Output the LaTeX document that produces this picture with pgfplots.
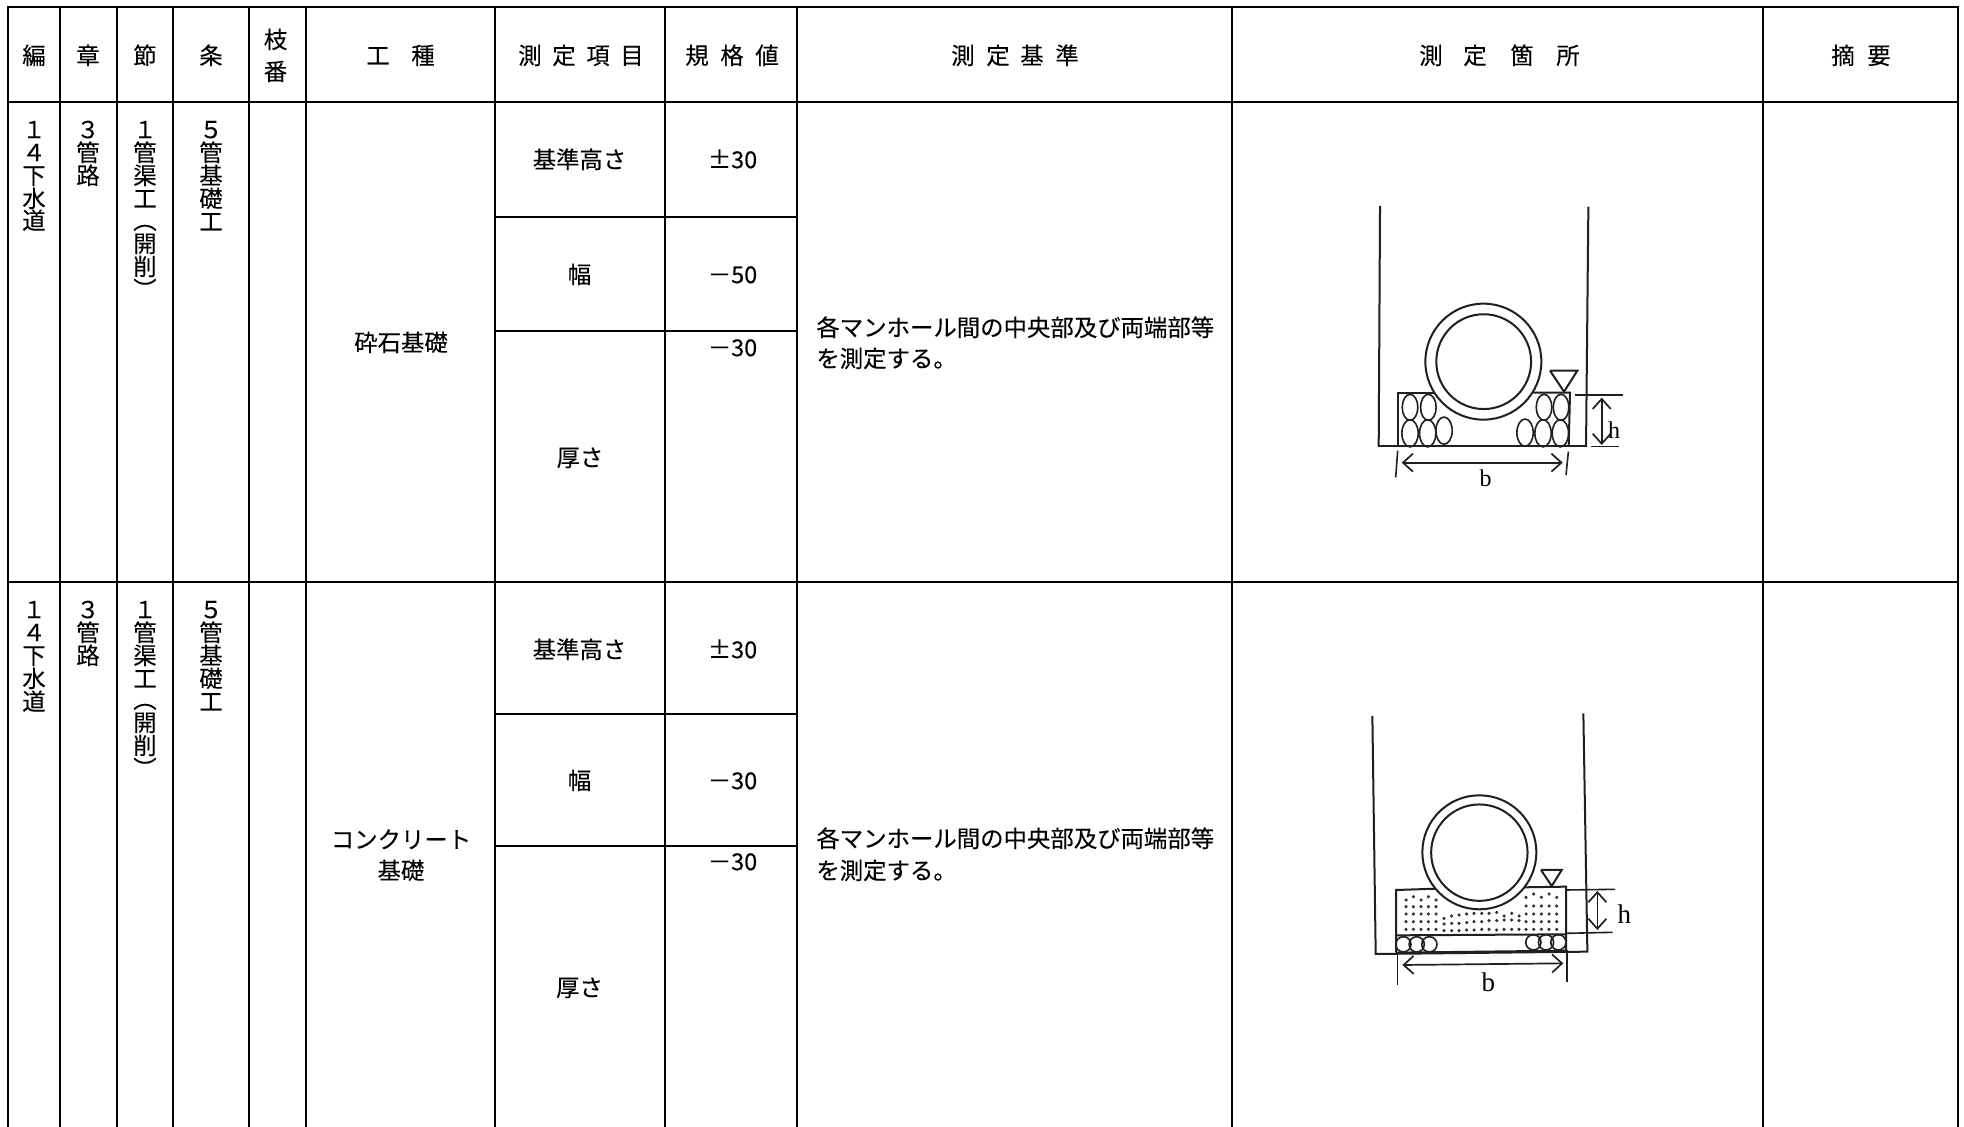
\documentclass[border=0pt]{standalone}
\usepackage{fontspec}
\setmainfont{Noto Sans CJK JP}[FakeBold=0.12]
\newfontfamily\serif{Liberation Serif}
\usepackage{pgfplots}
\pgfplotsset{compat=1.18}
\usetikzlibrary{arrows.meta}
\pgfplotsset{sheet/.style={hide axis, scale only axis, width=982pt, height=563.5pt, y dir=reverse, clip=true}}
\tikzset{
  tl/.style={black, line width=1.15pt},
  dl/.style={color=black!88, line width=1pt},
  dn/.style={color=black!88, line width=0.8pt},
  dim/.style={color=black!88, line width=0.85pt, {Straight Barb[length=5pt,width=9pt]}-{Straight Barb[length=5pt,width=9pt]}},
}
\newcommand{\T}[3]{\node[anchor=base, inner sep=0pt, yshift=-4.6pt, font=\fontsize{11.7}{11.7}\selectfont] at (axis cs:#1,#2) {#3};}
\newcommand{\TL}[3]{\node[anchor=base west, inner sep=0pt, yshift=-4.6pt, font=\fontsize{11.7}{11.7}\selectfont] at (axis cs:#1,#2) {#3};}
\begin{document}
\begin{tikzpicture}
% ---------- table ----------
\begin{axis}[sheet, xmin=0, xmax=1964, ymin=0, ymax=1127, axis on top=false,
  axis background/.style={fill=white}]
\addplot[tl] coordinates {(7,7)(1959,7)};
\addplot[tl] coordinates {(7,102)(1959,102)};
\addplot[tl] coordinates {(7,582)(1959,582)};
\addplot[tl] coordinates {(495,217)(797,217)};
\addplot[tl] coordinates {(495,331)(797,331)};
\addplot[tl] coordinates {(495,714)(797,714)};
\addplot[tl] coordinates {(495,846)(797,846)};
\addplot[tl] coordinates {(8,7)(8,1127)};
\addplot[tl] coordinates {(60,7)(60,1127)};
\addplot[tl] coordinates {(117,7)(117,1127)};
\addplot[tl] coordinates {(173,7)(173,1127)};
\addplot[tl] coordinates {(249,7)(249,1127)};
\addplot[tl] coordinates {(306,7)(306,1127)};
\addplot[tl] coordinates {(495,7)(495,1127)};
\addplot[tl] coordinates {(665,7)(665,1127)};
\addplot[tl] coordinates {(797,7)(797,1127)};
\addplot[tl] coordinates {(1232,7)(1232,1127)};
\addplot[tl] coordinates {(1763,7)(1763,1127)};
\addplot[tl] coordinates {(1958,7)(1958,1127)};
% header
\T{34}{55}{編} \T{88}{55}{章} \T{145}{55}{節} \T{211}{55}{条}
\T{275.5}{39}{枝} \T{275.5}{71}{番}
\T{378}{55}{工} \T{423}{55}{種}
\T{530}{55}{測} \T{564}{55}{定} \T{598}{55}{項} \T{632}{55}{目}
\T{697}{55}{規} \T{732}{55}{格} \T{767}{55}{値}
\T{963}{55}{測} \T{998}{55}{定} \T{1032}{55}{基} \T{1067}{55}{準}
\T{1431}{55}{測} \T{1475}{55}{定} \T{1522}{55}{箇} \T{1568}{55}{所}
\T{1843}{55}{摘} \T{1879}{55}{要}
% row 1 vertical
\T{34}{129}{１} \T{34}{152}{４} \T{34}{175}{下} \T{34}{198}{水} \T{34}{220}{道}
\T{88}{129}{３} \T{88}{152}{管} \T{88}{175}{路}
\T{145}{129}{１} \T{145}{152}{管} \T{145}{175}{渠} \T{145}{198}{工} \T{145}{220}{︵} \T{145}{243}{開} \T{145}{266}{削} \T{145}{289}{︶}
\T{211}{129}{５} \T{211}{152}{管} \T{211}{175}{基} \T{211}{198}{礎} \T{211}{221}{工}
% row 1 cells
\T{401}{342}{砕石基礎}
\T{579.5}{159}{基準高さ} \T{732.5}{159}{±30}
\T{579.5}{274}{幅} \T{732.5}{274}{－50}
\T{732.5}{347}{－30}
\T{580}{457}{厚さ}
\TL{816}{327}{各マンホール間の中央部及び両端部等}
\TL{816}{358}{を測定する。}
% row 2 vertical
\T{34}{609}{１} \T{34}{632}{４} \T{34}{655}{下} \T{34}{678}{水} \T{34}{701}{道}
\T{88}{609}{３} \T{88}{632}{管} \T{88}{655}{路}
\T{145}{609}{１} \T{145}{632}{管} \T{145}{655}{渠} \T{145}{678}{工} \T{145}{699}{︵} \T{145}{722}{開} \T{145}{745}{削} \T{145}{768}{︶}
\T{211}{609}{５} \T{211}{632}{管} \T{211}{655}{基} \T{211}{678}{礎} \T{211}{701}{工}
% row 2 cells
\T{401}{839}{コンクリート} \T{401}{870}{基礎}
\T{579.5}{649}{基準高さ} \T{732.5}{649}{±30}
\T{579.5}{780}{幅} \T{732.5}{780}{－30}
\T{732.5}{861}{－30}
\T{579.5}{987}{厚さ}
\TL{816}{838}{各マンホール間の中央部及び両端部等}
\TL{816}{870}{を測定する。}
\end{axis}
% ---------- sketch 1 (units: 1/3 px from 1340,190) ----------
\begin{axis}[sheet, xmin=-4020, xmax=1872, ymin=-570, ymax=2811]
\addplot[dl] coordinates {(120,48)(116,768)};
\addplot[dl] coordinates {(745,50)(738,770)};
\addplot[dl] coordinates {(113,768)(740,768)};
\addplot[dl] coordinates {(175,768)(175,608)(285,608)};
\addplot[dl] coordinates {(580,608)(690,608)(686,768)};
\addplot[dn, only marks, mark=o, mark size=6.5pt, mark options={xscale=0.6, solid}] coordinates {(210,652)(265,652)(612,652)(663,652)};
\addplot[dn, only marks, mark=o, mark size=6.8pt, mark options={xscale=0.6, solid}] coordinates {(210,730)(263,730)(312,722)(555,728)(609,730)(661,730)};
\addplot[dl, only marks, mark=*, mark size=29pt, mark options={fill=white, solid}] coordinates {(430,515)};
\addplot[dl, only marks, mark=*, mark size=23.7pt, mark options={fill=white, solid}] coordinates {(431,515)};
\addplot[dl] coordinates {(630,542)(712,542)(672,605)(630,542)};
\addplot[dn] coordinates {(705,615)(848,615)};
\addplot[dn] coordinates {(753,770)(838,770)};
\addplot[dim] coordinates {(785,623)(785,765)};
\addplot[dim] coordinates {(185,818)(668,818)};
\addplot[dn] coordinates {(173,782)(167,862)};
\addplot[dn] coordinates {(685,785)(678,855)};
\node[anchor=center, inner sep=0pt, font=\serif\fontsize{12}{12}\selectfont] at (axis cs:822,720) {h};
\node[anchor=center, inner sep=0pt, font=\serif\fontsize{12}{12}\selectfont] at (axis cs:437,866) {b};
\end{axis}
% ---------- sketch 2 (units: 1/3 px from 1340,700) ----------
\begin{axis}[sheet, xmin=-4020, xmax=1872, ymin=-2100, ymax=1281]
\addplot[dl] coordinates {(97,48)(107,762)(742,755)(730,40)};
\addplot[dl] coordinates {(168,758)(168,570)(290,566)};
\addplot[dl] coordinates {(550,562)(678,560)(678,752)};
\addplot[dl] coordinates {(168,706)(678,703)};
\addplot[dl] coordinates {(168,758)(678,752)};
\addplot[dn, only marks, mark=o, mark size=3.8pt, mark options={solid}] coordinates {(190,733)(230,733)(268,733)(580,727)(618,727)(655,727)};
\addplot[black!80, only marks, mark=*, mark size=0.6pt] coordinates {
(198,600)(220,590)(243,600)(265,590)(288,600)
(198,620)(220,620)(243,620)(265,620)(288,620)
(198,642)(220,642)(243,642)(265,642)(288,642)
(198,665)(220,665)(243,665)(265,665)(288,665)
(198,688)(220,688)(243,688)(265,688)(288,688)
(312,655)(335,648)(357,645)(380,642)(402,640)(425,640)(447,640)(470,637)(492,648)(515,640)(537,648)
(312,672)(335,670)(357,670)(380,668)(402,665)(425,665)(447,662)(470,662)(492,660)(515,660)(537,662)
(312,692)(335,692)(357,692)(380,690)(402,690)(425,688)(447,688)(470,690)(492,688)(515,688)(537,688)
(558,592)(581,582)(604,592)(627,582)(650,592)
(558,618)(581,618)(604,618)(627,618)(650,618)
(558,642)(581,642)(604,642)(627,642)(650,642)
(558,665)(581,665)(604,665)(627,665)(650,665)
(558,688)(581,688)(604,688)(627,688)(650,688)};
\addplot[dl, only marks, mark=*, mark size=28.5pt, mark options={fill=white, solid}] coordinates {(418,457)};
\addplot[dl, only marks, mark=*, mark size=24.1pt, mark options={fill=white, solid}] coordinates {(418,458)};
\addplot[dl] coordinates {(603,510)(665,510)(635,558)(603,510)};
\addplot[dn] coordinates {(678,570)(825,568)};
\addplot[dn] coordinates {(678,700)(818,697)};
\addplot[dim] coordinates {(772,573)(772,690)};
\addplot[dim] coordinates {(187,795)(670,790)};
\addplot[dn] coordinates {(172,755)(172,855)};
\addplot[dn] coordinates {(680,750)(680,845)};
\node[anchor=center, inner sep=0pt, font=\serif\fontsize{13.5}{13.5}\selectfont] at (axis cs:853,642) {h};
\node[anchor=center, inner sep=0pt, font=\serif\fontsize{13.5}{13.5}\selectfont] at (axis cs:445,846) {b};
\end{axis}
\end{tikzpicture}
\end{document}
